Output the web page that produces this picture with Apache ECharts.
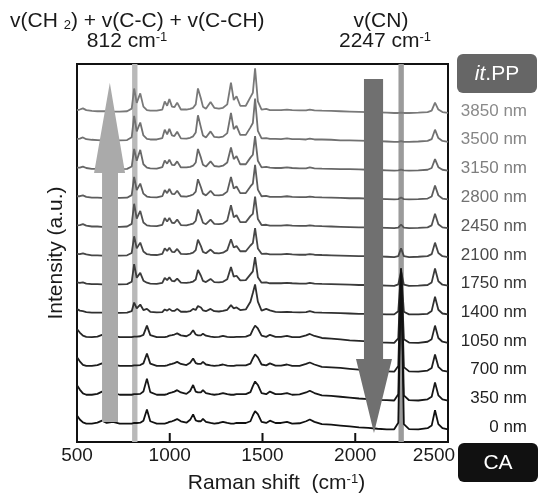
<!DOCTYPE html>
<html>
<head>
<meta charset="utf-8">
<title>Raman depth profile</title>
<script src="https://cdn.jsdelivr.net/npm/echarts@6/dist/echarts.min.js"></script>
<style>
  html, body { margin: 0; padding: 0; background: #fff; }
  #chart { width: 539px; height: 499px; }
</style>
</head>
<body>
<div id="chart"></div>
<script>
// Raman shift positions (cm-1) shared by every spectrum
const shifts = [
  500, 515, 532, 550, 580, 610, 635, 660, 694, 730,
  770, 795, 808, 822, 841, 858, 877, 895, 930, 960,
  973, 986, 998, 1012, 1025, 1040, 1060, 1090, 1110, 1126,
  1140, 1152, 1168, 1179, 1195, 1220, 1240, 1265, 1287, 1310,
  1330, 1345, 1360, 1380, 1410, 1435, 1448, 1460, 1475, 1495,
  1520, 1540, 1570, 1600, 1632, 1660, 1700, 1735, 1755, 1780,
  1820, 1870, 1920, 1970, 2020, 2070, 2120, 2170, 2210, 2232,
  2247, 2262, 2290, 2340, 2390, 2412, 2430, 2448, 2470, 2500
];

// depth labels, bottom (CA side) to top (it.PP side)
const depths = ['0 nm', '350 nm', '700 nm', '1050 nm', '1400 nm', '1750 nm',
  '2100 nm', '2450 nm', '2800 nm', '3150 nm', '3500 nm', '3850 nm'];

// intensities (a.u.), above its own baseline
const s0nm = [
  0.50,0.36,0.26,0.22,0.22,0.25,0.32,0.24,0.28,0.22,
  0.22,0.22,0.24,0.24,0.25,0.32,0.71,0.30,0.22,0.22,
  0.22,0.24,0.28,0.30,0.33,0.38,0.30,0.25,0.35,0.54,
  0.33,0.30,0.30,0.38,0.28,0.24,0.22,0.24,0.28,0.24,
  0.22,0.22,0.24,0.24,0.24,0.30,0.50,0.65,0.55,0.28,
  0.24,0.32,0.24,0.24,0.28,0.22,0.23,0.30,0.36,0.28,
  0.20,0.18,0.15,0.12,0.09,0.07,0.04,0.02,0.02,0.25,
  5.50,0.20,0.03,0.02,0.06,0.15,0.68,0.20,0.06,0.02];
const s350nm = [
  0.55,0.40,0.27,0.22,0.22,0.25,0.33,0.24,0.29,0.22,
  0.22,0.22,0.24,0.24,0.25,0.33,0.78,0.31,0.22,0.22,
  0.22,0.24,0.28,0.30,0.33,0.38,0.30,0.25,0.35,0.56,
  0.33,0.30,0.30,0.38,0.28,0.24,0.22,0.24,0.28,0.24,
  0.22,0.22,0.24,0.24,0.24,0.31,0.52,0.68,0.56,0.28,
  0.24,0.33,0.24,0.24,0.28,0.22,0.23,0.30,0.36,0.28,
  0.20,0.18,0.15,0.12,0.09,0.07,0.04,0.03,0.02,0.24,
  4.60,0.20,0.03,0.02,0.06,0.15,0.65,0.20,0.06,0.02];
const s700nm = [
  0.52,0.38,0.26,0.22,0.22,0.25,0.31,0.24,0.28,0.22,
  0.22,0.22,0.24,0.24,0.25,0.31,0.65,0.30,0.22,0.22,
  0.22,0.24,0.27,0.29,0.32,0.36,0.29,0.25,0.33,0.48,
  0.32,0.29,0.29,0.36,0.27,0.24,0.22,0.24,0.27,0.23,
  0.22,0.22,0.24,0.24,0.24,0.30,0.48,0.62,0.52,0.27,
  0.24,0.31,0.23,0.23,0.27,0.22,0.22,0.29,0.34,0.27,
  0.19,0.17,0.15,0.12,0.09,0.07,0.04,0.03,0.02,0.22,
  3.60,0.18,0.03,0.02,0.06,0.15,0.62,0.19,0.06,0.02];
const s1050nm = [
  0.50,0.38,0.27,0.23,0.22,0.24,0.30,0.24,0.27,0.22,
  0.22,0.22,0.24,0.24,0.25,0.30,0.62,0.29,0.22,0.22,
  0.22,0.24,0.27,0.29,0.31,0.35,0.28,0.25,0.32,0.46,
  0.31,0.28,0.28,0.34,0.27,0.24,0.22,0.23,0.26,0.23,
  0.22,0.22,0.23,0.23,0.24,0.30,0.48,0.62,0.52,0.27,
  0.23,0.30,0.23,0.23,0.26,0.22,0.22,0.28,0.33,0.26,
  0.19,0.17,0.14,0.11,0.09,0.07,0.04,0.03,0.02,0.18,
  2.60,0.15,0.03,0.02,0.06,0.15,0.62,0.19,0.06,0.02];
const s1400nm = [
  0.20,0.14,0.12,0.09,0.07,0.07,0.07,0.06,0.07,0.06,
  0.07,0.12,0.42,0.22,0.35,0.16,0.20,0.10,0.08,0.09,
  0.18,0.14,0.20,0.13,0.13,0.20,0.10,0.10,0.12,0.20,
  0.16,0.30,0.25,0.15,0.12,0.20,0.12,0.11,0.13,0.17,
  0.33,0.22,0.25,0.16,0.18,0.45,0.75,1.05,0.45,0.14,
  0.20,0.15,0.10,0.09,0.10,0.09,0.08,0.09,0.12,0.08,
  0.07,0.06,0.05,0.04,0.03,0.03,0.02,0.01,0.01,0.12,
  1.50,0.10,0.01,0.01,0.03,0.13,0.62,0.17,0.04,0.01];
const s1750nm = [
  0.12,0.10,0.12,0.08,0.06,0.06,0.05,0.05,0.05,0.05,
  0.06,0.14,0.75,0.28,0.45,0.18,0.11,0.08,0.07,0.10,
  0.28,0.20,0.30,0.17,0.16,0.25,0.11,0.10,0.12,0.15,
  0.22,0.55,0.35,0.17,0.13,0.24,0.13,0.12,0.14,0.23,
  0.65,0.32,0.35,0.19,0.20,0.40,0.50,1.00,0.30,0.11,
  0.12,0.09,0.09,0.09,0.10,0.09,0.08,0.08,0.10,0.08,
  0.07,0.06,0.05,0.04,0.03,0.03,0.02,0.01,0.00,0.05,
  0.50,0.04,0.00,0.01,0.03,0.12,0.60,0.16,0.04,0.01];
const s2100nm = [
  0.11,0.10,0.13,0.09,0.06,0.06,0.05,0.05,0.05,0.05,
  0.06,0.14,0.72,0.30,0.50,0.19,0.10,0.08,0.07,0.11,
  0.30,0.21,0.32,0.18,0.17,0.28,0.11,0.10,0.12,0.15,
  0.24,0.60,0.38,0.18,0.13,0.26,0.14,0.13,0.15,0.24,
  0.62,0.33,0.38,0.20,0.20,0.40,0.48,1.00,0.30,0.11,
  0.12,0.09,0.09,0.09,0.11,0.09,0.08,0.08,0.10,0.08,
  0.07,0.06,0.05,0.04,0.03,0.03,0.02,0.01,0.00,0.03,
  0.30,0.03,0.00,0.01,0.03,0.10,0.50,0.14,0.03,0.00];
const s2450nm = [
  0.10,0.11,0.14,0.09,0.06,0.06,0.05,0.05,0.05,0.05,
  0.06,0.15,0.85,0.33,0.60,0.20,0.10,0.08,0.07,0.12,
  0.35,0.23,0.36,0.19,0.18,0.30,0.11,0.10,0.13,0.16,
  0.26,0.65,0.40,0.19,0.14,0.30,0.15,0.14,0.16,0.27,
  0.80,0.38,0.45,0.21,0.21,0.42,0.50,1.10,0.32,0.11,
  0.12,0.09,0.09,0.09,0.11,0.09,0.08,0.08,0.10,0.08,
  0.07,0.06,0.05,0.04,0.03,0.03,0.02,0.01,0.00,0.02,
  0.13,0.02,0.00,0.01,0.03,0.10,0.50,0.14,0.03,0.00];
const s2800nm = [
  0.11,0.11,0.14,0.09,0.06,0.06,0.05,0.05,0.05,0.05,
  0.06,0.15,0.78,0.32,0.55,0.20,0.10,0.08,0.07,0.11,
  0.32,0.22,0.36,0.19,0.18,0.30,0.11,0.10,0.13,0.17,
  0.27,0.70,0.42,0.20,0.14,0.30,0.15,0.14,0.16,0.27,
  0.78,0.38,0.45,0.22,0.22,0.45,0.55,1.20,0.34,0.11,
  0.12,0.09,0.09,0.09,0.11,0.09,0.08,0.08,0.10,0.08,
  0.07,0.06,0.05,0.04,0.04,0.03,0.02,0.01,0.00,0.01,
  0.07,0.01,0.00,0.01,0.03,0.10,0.48,0.14,0.03,0.00];
const s3150nm = [
  0.10,0.10,0.14,0.09,0.06,0.06,0.05,0.05,0.05,0.05,
  0.06,0.14,0.75,0.34,0.72,0.22,0.10,0.08,0.07,0.12,
  0.35,0.24,0.38,0.20,0.19,0.32,0.11,0.11,0.13,0.17,
  0.28,0.75,0.45,0.20,0.14,0.32,0.16,0.14,0.17,0.28,
  0.80,0.40,0.50,0.22,0.22,0.45,0.55,1.20,0.34,0.11,
  0.13,0.10,0.09,0.09,0.11,0.09,0.08,0.08,0.11,0.08,
  0.07,0.06,0.05,0.05,0.04,0.03,0.02,0.01,0.00,0.01,
  0.03,0.01,0.00,0.01,0.03,0.09,0.40,0.12,0.03,0.00];
const s3500nm = [
  0.09,0.11,0.15,0.09,0.07,0.06,0.05,0.06,0.05,0.05,
  0.06,0.16,0.90,0.36,0.67,0.22,0.10,0.08,0.08,0.13,
  0.42,0.26,0.45,0.22,0.20,0.35,0.12,0.11,0.14,0.19,
  0.32,0.92,0.50,0.22,0.15,0.36,0.17,0.15,0.18,0.30,
  1.00,0.44,0.55,0.24,0.24,0.50,0.65,1.50,0.38,0.12,
  0.13,0.10,0.10,0.09,0.12,0.09,0.09,0.08,0.11,0.08,
  0.08,0.07,0.05,0.05,0.04,0.03,0.02,0.01,0.00,0.00,
  0.02,0.00,0.00,0.01,0.03,0.09,0.42,0.13,0.03,0.00];
const s3850nm = [
  0.10,0.12,0.16,0.10,0.07,0.06,0.06,0.06,0.05,0.05,
  0.06,0.15,0.85,0.35,0.68,0.22,0.10,0.08,0.08,0.12,
  0.40,0.25,0.48,0.22,0.20,0.36,0.12,0.12,0.14,0.18,
  0.30,0.85,0.50,0.22,0.15,0.38,0.18,0.15,0.18,0.30,
  1.05,0.45,0.58,0.25,0.25,0.55,0.70,1.55,0.40,0.12,
  0.14,0.10,0.10,0.10,0.12,0.10,0.09,0.09,0.12,0.09,
  0.08,0.07,0.06,0.05,0.04,0.03,0.02,0.01,0.00,0.00,
  0.01,0.00,0.00,0.01,0.03,0.08,0.36,0.12,0.03,0.00];

const spectra = [s0nm, s350nm, s700nm, s1050nm, s1400nm, s1750nm,
  s2100nm, s2450nm, s2800nm, s3150nm, s3500nm, s3850nm];

const xTicks = [500, 1000, 1500, 2000, 2500];
const yRange = [-0.42, 12.7];

// highlighted bands (cm-1): 812 and 2247
const bandCH = [797, 826];
const bandCN = [2233, 2262];

// arrows, in axis units: shaft x-range, head x-range, tail y, head-base y, tip
const arrows = [
  { shaft: [635, 721], head: [592, 759], tail: 0.27, base: 8.92, tip: [677, 12.05], color: '#aaaaaa' },
  { shaft: [2047, 2150], head: [2004, 2198], tail: 12.18, base: 2.46, tip: [2101, -0.11], color: '#707070' }
];

const lineColors = ['#111111', '#171717', '#1e1e1e', '#262626', '#303030', '#3b3b3b',
  '#474747', '#525252', '#5d5d5d', '#686868', '#717171', '#797979'];
const labelColors = ['#1a1a1a', '#1e1e1e', '#222222', '#262626', '#2e2e2e', '#363636',
  '#4a4a4a', '#5a5a5a', '#737373', '#7e7e7e', '#858585', '#8a8a8a'];

const FONT = '"Liberation Sans", Arial, sans-serif';

const chart = echarts.init(document.getElementById('chart'), null, { renderer: 'canvas' });

const series = [{
  type: 'line',
  data: [],
  z: 1,
  silent: true,
  markArea: {
    silent: true,
    label: { show: false },
    data: [
      [{ xAxis: bandCH[0], itemStyle: { color: '#b9b9b9' } }, { xAxis: bandCH[1] }],
      [{ xAxis: bandCN[0], itemStyle: { color: '#9b9b9b' } }, { xAxis: bandCN[1] }]
    ]
  }
}];

spectra.forEach((vals, i) => {
  series.push({
    type: 'line',
    name: depths[i],
    data: shifts.map((x, k) => [x, vals[k] + i]),
    symbol: 'none',
    smooth: false,
    z: 3 + (spectra.length - i) * 0.01,
    silent: true,
    lineStyle: { color: lineColors[i], width: 1.8 },
    endLabel: {
      show: true,
      formatter: depths[i],
      distance: 79,
      align: 'right',
      verticalAlign: 'middle',
      offset: [0, -2],
      color: labelColors[i],
      fontSize: 17,
      fontFamily: FONT
    }
  });
});

// direction arrows
series.push({
  type: 'custom',
  z: 10,
  silent: true,
  clip: false,
  data: arrows.map(a => a.tip),
  renderItem: (params, api) => {
    const a = arrows[params.dataIndex];
    const pts = [
      [a.shaft[0], a.tail], [a.shaft[1], a.tail], [a.shaft[1], a.base],
      [a.head[1], a.base], a.tip, [a.head[0], a.base], [a.shaft[0], a.base]
    ].map(p => api.coord(p));
    return { type: 'polygon', shape: { points: pts }, style: { fill: a.color } };
  }
});

// inward tick marks on the inner x ticks
series.push({
  type: 'custom',
  z: 12,
  silent: true,
  clip: false,
  data: xTicks.slice(1, -1).map(v => [v, 0]),
  renderItem: (params, api) => {
    const v = xTicks[params.dataIndex + 1];
    const p = api.coord([v, yRange[0]]);
    return {
      type: 'rect',
      shape: { x: p[0] - 1, y: p[1] - 9, width: 2, height: 9 },
      style: { fill: '#111' }
    };
  }
});

chart.setOption({
  animation: false,
  backgroundColor: '#fff',
  textStyle: { fontFamily: FONT },
  grid: {
    left: 77, right: 91, top: 64, bottom: 57,
    show: true, borderColor: '#111', borderWidth: 2, backgroundColor: 'transparent'
  },
  xAxis: {
    type: 'value',
    min: xTicks[0],
    max: xTicks[xTicks.length - 1],
    interval: 500,
    name: 'Raman shift  (cm{sup|-1})',
    nameLocation: 'middle',
    nameGap: 31,
    nameTextStyle: {
      fontSize: 21, color: '#1a1a1a', fontFamily: FONT, padding: [0, 0, 0, 28],
      rich: { sup: { fontSize: 13, verticalAlign: 'top', color: '#1a1a1a', fontFamily: FONT } }
    },
    axisLine: { show: true, onZero: false, lineStyle: { color: '#111', width: 2 } },
    axisTick: { show: false },
    axisLabel: {
      fontSize: 19, color: '#1a1a1a', margin: 4, fontFamily: FONT,
      formatter: v => (v === xTicks[xTicks.length - 1] ? '{m|' + v + '}' : String(v)),
      rich: { m: { fontSize: 19, color: '#1a1a1a', fontFamily: FONT, padding: [0, 28, 0, 0] } }
    },
    splitLine: { show: false }
  },
  yAxis: {
    type: 'value',
    min: yRange[0],
    max: yRange[1],
    name: 'Intensity (a.u.)',
    nameLocation: 'middle',
    nameGap: 10,
    nameTextStyle: { fontSize: 21, color: '#1a1a1a', fontFamily: FONT },
    axisLine: { show: false, onZero: false },
    axisTick: { show: false },
    axisLabel: { show: false },
    splitLine: { show: false }
  },
  graphic: [
    {
      type: 'text', x: 10, y: 21,
      style: {
        text: 'v(CH {sub|2}) + v(C-C) + v(C-CH)',
        fontSize: 21, fontFamily: FONT, fill: '#1a1a1a',
        align: 'left', verticalAlign: 'middle',
        rich: { sub: { fontSize: 13, verticalAlign: 'bottom', fill: '#1a1a1a', fontFamily: FONT } }
      }
    },
    {
      type: 'text', x: 127, y: 41,
      style: {
        text: '812 cm{sup|-1}',
        fontSize: 21, fontFamily: FONT, fill: '#1a1a1a',
        align: 'center', verticalAlign: 'middle',
        rich: { sup: { fontSize: 13, verticalAlign: 'top', fill: '#1a1a1a', fontFamily: FONT } }
      }
    },
    {
      type: 'text', x: 381, y: 21,
      style: {
        text: 'v(CN)', fontSize: 21, fontFamily: FONT, fill: '#1a1a1a',
        align: 'center', verticalAlign: 'middle'
      }
    },
    {
      type: 'text', x: 385, y: 41,
      style: {
        text: '2247 cm{sup|-1}',
        fontSize: 21, fontFamily: FONT, fill: '#1a1a1a',
        align: 'center', verticalAlign: 'middle',
        rich: { sup: { fontSize: 13, verticalAlign: 'top', fill: '#1a1a1a', fontFamily: FONT } }
      }
    },
    {
      type: 'rect', shape: { x: 457, y: 54, width: 80, height: 39, r: 6 },
      style: { fill: '#666' }
    },
    {
      type: 'text', x: 497, y: 74,
      style: {
        text: '{i|it}.PP', fontSize: 21, fontFamily: FONT, fill: '#fff',
        align: 'center', verticalAlign: 'middle',
        rich: { i: { fontStyle: 'italic', fontSize: 21, fill: '#fff', fontFamily: FONT } }
      }
    },
    {
      type: 'rect', shape: { x: 458, y: 443, width: 80, height: 39, r: 6 },
      style: { fill: '#111' }
    },
    {
      type: 'text', x: 498, y: 463,
      style: {
        text: 'CA', fontSize: 21, fontFamily: FONT, fill: '#fff',
        align: 'center', verticalAlign: 'middle'
      }
    }
  ],
  series: series
});
</script>
</body>
</html>
